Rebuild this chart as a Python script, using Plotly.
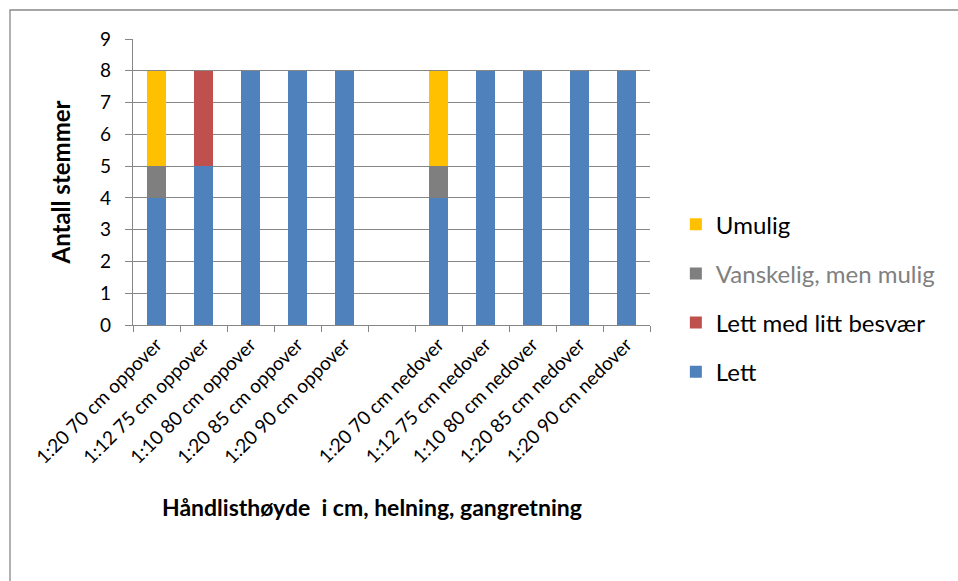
import plotly.graph_objects as go

FONT = 'Lato'

categories = ['1:20 70 cm oppover', '1:12 75 cm oppover', '1:10 80 cm oppover',
              '1:20 85 cm oppover', '1:20 90 cm oppover', ' ',
              '1:20 70 cm nedover', '1:12 75 cm nedover', '1:10 80 cm nedover',
              '1:20 85 cm nedover', '1:20 90 cm nedover']

lett = [4, 5, 8, 8, 8, 0, 4, 8, 8, 8, 8]
lett_med_besvaer = [0, 3, 0, 0, 0, 0, 0, 0, 0, 0, 0]
vanskelig = [1, 0, 0, 0, 0, 0, 1, 0, 0, 0, 0]
umulig = [3, 0, 0, 0, 0, 0, 3, 0, 0, 0, 0]

series = [
    ('Lett', lett, '#4F81BD'),
    ('Lett med litt besvær', lett_med_besvaer, '#C0504D'),
    ('<span style="color:#808080">Vanskelig, men mulig</span>', vanskelig, '#7F7F7F'),
    ('Umulig', umulig, '#FFC000'),
]

fig = go.Figure()
for i, (name, vals, color) in enumerate(series):
    # stacked bottom-up, legend listed top-down (Umulig first)
    fig.add_bar(x=categories, y=vals, name=name, marker_color=color,
                marker_line_width=0, legendgroup=f'g{i}', legendrank=100 - i)

grid = '#868686'
fig.update_layout(
    barmode='stack', bargap=0.61,
    width=958, height=581,
    margin=dict(l=133, r=308, t=39, b=256),
    paper_bgcolor='white', plot_bgcolor='white',
    font=dict(family=FONT, size=16, color='black'),
    showlegend=True,
    legend=dict(x=1.05, y=0.094, xanchor='left', yanchor='middle',
                traceorder='grouped', tracegroupgap=15,
                font=dict(size=24, color='black')),
    annotations=[dict(text='<b>Håndlisthøyde  i cm, helning, gangretning</b>',
                      xref='paper', yref='paper', x=(372 - 133) / 517, y=(325 - 507) / 286,
                      xanchor='center', yanchor='middle', showarrow=False,
                      font=dict(size=23, family=FONT))],
    shapes=[dict(type='rect', xref='paper', yref='paper',
                 x0=(10 - 133) / 517, x1=1.8, y0=-1.5, y1=(325 - 10) / 286,
                 line=dict(color='#888888', width=1.3), fillcolor='rgba(0,0,0,0)',
                 layer='below')],
)
fig.update_xaxes(type='category', tickson='boundaries', ticks='outside', ticklen=6,
                 tickcolor=grid, showline=True, linecolor=grid, linewidth=1.3,
                 showgrid=False, tickangle=-45, tickfont=dict(size=19))
fig.update_yaxes(range=[0, 9], dtick=1, ticks='outside', ticklen=7, tickcolor=grid,
                 showline=True, linecolor=grid, linewidth=1.3,
                 showgrid=True, gridcolor=grid, gridwidth=1.3,
                 tickfont=dict(size=19), ticklabelstandoff=10,
                 title=dict(text='<b>Antall stemmer</b>', font=dict(size=24), standoff=22))

fig.write_html('out.html', config={'displayModeBar': False},
               post_script="document.body.style.margin='0';")
